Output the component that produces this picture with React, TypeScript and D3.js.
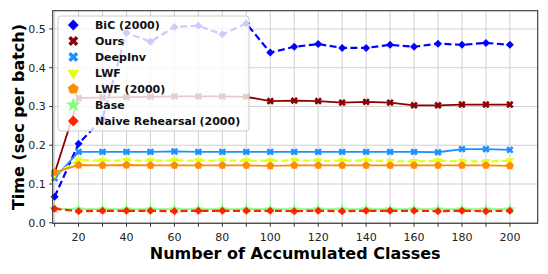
import React from 'react';
import * as d3 from 'd3';

const classes = [10, 20, 30, 40, 50, 60, 70, 80, 90, 100, 110, 120, 130, 140, 150, 160, 170, 180, 190, 200];

const bic = [0.067, 0.204, 0.269, 0.49, 0.467, 0.505, 0.508, 0.486, 0.514, 0.439, 0.454, 0.461, 0.451, 0.451, 0.459, 0.454, 0.462, 0.459, 0.464, 0.459];
const ours = [0.128, 0.322, 0.323, 0.324, 0.325, 0.326, 0.326, 0.326, 0.325, 0.314, 0.315, 0.314, 0.31, 0.312, 0.31, 0.303, 0.303, 0.305, 0.305, 0.305];
const deepInv = [0.115, 0.183, 0.183, 0.183, 0.183, 0.184, 0.183, 0.183, 0.183, 0.183, 0.183, 0.183, 0.183, 0.183, 0.183, 0.183, 0.182, 0.19, 0.19, 0.188];
const lwf = [0.125, 0.162, 0.16, 0.161, 0.16, 0.161, 0.16, 0.161, 0.16, 0.16, 0.161, 0.16, 0.16, 0.161, 0.159, 0.158, 0.16, 0.159, 0.158, 0.16];
const lwf2000 = [0.13, 0.149, 0.148, 0.149, 0.148, 0.148, 0.148, 0.148, 0.148, 0.147, 0.148, 0.148, 0.148, 0.148, 0.148, 0.148, 0.148, 0.148, 0.148, 0.147];
const base = [0.036, 0.035, 0.035, 0.035, 0.035, 0.035, 0.035, 0.035, 0.035, 0.035, 0.035, 0.035, 0.035, 0.035, 0.035, 0.035, 0.035, 0.035, 0.035, 0.035];
const naive = [0.036, 0.03, 0.031, 0.031, 0.031, 0.03, 0.031, 0.031, 0.031, 0.031, 0.03, 0.031, 0.03, 0.031, 0.031, 0.031, 0.03, 0.031, 0.03, 0.031];

const xTicks = [10, 20, 30, 40, 50, 60, 70, 80, 90, 100, 110, 120, 130, 140, 150, 160, 170, 180, 190, 200];
const yTicks = [0, 0.1, 0.2, 0.3, 0.4, 0.5];

type Shape = 'diamond' | 'x' | 'tri' | 'pent' | 'star';

const series: { name: string; values: number[]; color: string; dash?: string; shape: Shape }[] = [
  { name: 'BiC (2000)', values: bic, color: '#0000ff', dash: '7,3.5', shape: 'diamond' },
  { name: 'Ours', values: ours, color: '#8b0000', shape: 'x' },
  { name: 'DeepInv', values: deepInv, color: '#1e90ff', shape: 'x' },
  { name: 'LWF', values: lwf, color: '#e2ff14', dash: '7,3.5', shape: 'tri' },
  { name: 'LWF (2000)', values: lwf2000, color: '#ff8c00', shape: 'pent' },
  { name: 'Base', values: base, color: '#80ff80', shape: 'star' },
  { name: 'Naive Rehearsal (2000)', values: naive, color: '#ff2200', dash: '7,3.5', shape: 'diamond' },
];

const W = 548;
const H = 274;
const left = 52.7;
const right = 537.7;
const top = 10.7;
const bottom = 223.3;

const pentagon = (r: number) => {
  const pts = d3.range(5).map((i) => {
    const a = -Math.PI / 2 + (i * 2 * Math.PI) / 5;
    return [r * Math.cos(a), r * Math.sin(a)];
  });
  return 'M' + pts.map((p) => p.join(',')).join('L') + 'Z';
};

const markerPath = (shape: Shape) => {
  switch (shape) {
    case 'diamond':
      return d3.symbol(d3.symbolSquare, 32)()!;
    case 'x':
      return d3.symbol(d3.symbolCross, 34)()!;
    case 'tri':
      return d3.symbol(d3.symbolTriangle, 32)()!;
    case 'pent':
      return pentagon(4.2);
    case 'star':
      return d3.symbol(d3.symbolStar, 40)()!;
  }
};

const markerRotate = (shape: Shape) => (shape === 'diamond' || shape === 'x' ? 45 : shape === 'tri' ? 180 : 0);

const App: React.FC = () => {
  const x = d3.scaleLinear().domain([9.2, 211.6]).range([left, right]);
  const y = d3.scaleLinear().domain([-0.0013, 0.547]).range([bottom, top]);
  const line = d3
    .line<number>()
    .x((_, i) => x(classes[i]))
    .y((d) => y(d));

  const font = 'DejaVu Sans, sans-serif';

  return (
    <svg width={W} height={H} style={{ position: 'absolute', left: 0, top: 0 }} fontFamily={font}>
      <rect x={0} y={0} width={W} height={H} fill='#fff' />
      {/* grid */}
      {xTicks.map((t) => (
        <line key={'gx' + t} x1={x(t)} x2={x(t)} y1={top} y2={bottom} stroke='#d0d0d0' strokeWidth={1} />
      ))}
      {yTicks.map((t) => (
        <line key={'gy' + t} x1={left} x2={right} y1={y(t)} y2={y(t)} stroke='#d0d0d0' strokeWidth={1} />
      ))}

      {/* series */}
      {series.map((s) => (
        <g key={s.name}>
          <path d={line(s.values)!} fill='none' stroke={s.color} strokeWidth={s.dash ? 2.2 : 1.8} strokeDasharray={s.dash} />
          {s.values.map((v, i) => (
            <path
              key={i}
              d={markerPath(s.shape)}
              fill={s.color}
              transform={`translate(${x(classes[i])},${y(v)}) rotate(${markerRotate(s.shape)})`}
            />
          ))}
        </g>
      ))}

      {/* frame */}
      <rect x={left} y={top} width={right - left} height={bottom - top} fill='none' stroke='#333' strokeWidth={1.1} />

      {/* x axis */}
      {xTicks.map((t) => (
        <g key={'tx' + t} transform={`translate(${x(t)},${bottom})`}>
          <line y1={0} y2={3.5} stroke='#333' />
          {t % 20 === 0 && (
            <text y={17.5} textAnchor='middle' fontSize={11} fill='#222'>
              {t}
            </text>
          )}
        </g>
      ))}
      {yTicks.map((t) => (
        <g key={'ty' + t} transform={`translate(${left},${y(t)})`}>
          <line x1={0} x2={-3.5} stroke='#333' />
          <text x={-7} dy='0.35em' textAnchor='end' fontSize={11} fill='#222'>
            {t.toFixed(1)}
          </text>
        </g>
      ))}

      <text x={(left + right) / 2} y={259} textAnchor='middle' fontSize={16} fontWeight='bold'>
        Number of Accumulated Classes
      </text>
      <text transform={`translate(23.5,${(top + bottom) / 2}) rotate(-90)`} textAnchor='middle' fontSize={16} fontWeight='bold'>
        Time (sec per batch)
      </text>

      {/* legend, semi-transparent so lines behind it show faded */}
      <rect x={58} y={16} width={191} height={115} rx={3} fill='rgba(255,255,255,0.8)' stroke='#cccccc' />
      {series.map((s, i) => (
        <g key={'lg' + s.name} transform={`translate(73.3,${25 + i * 16})`}>
          <path
            d={markerPath(s.shape)}
            fill={s.color}
            transform={`rotate(${markerRotate(s.shape)}) scale(1.35)`}
          />
          <text x={21.7} dy='0.36em' fontSize={11} fontWeight='bold' fill='#111'>
            {s.name}
          </text>
        </g>
      ))}
    </svg>
  );
};

export default App;
